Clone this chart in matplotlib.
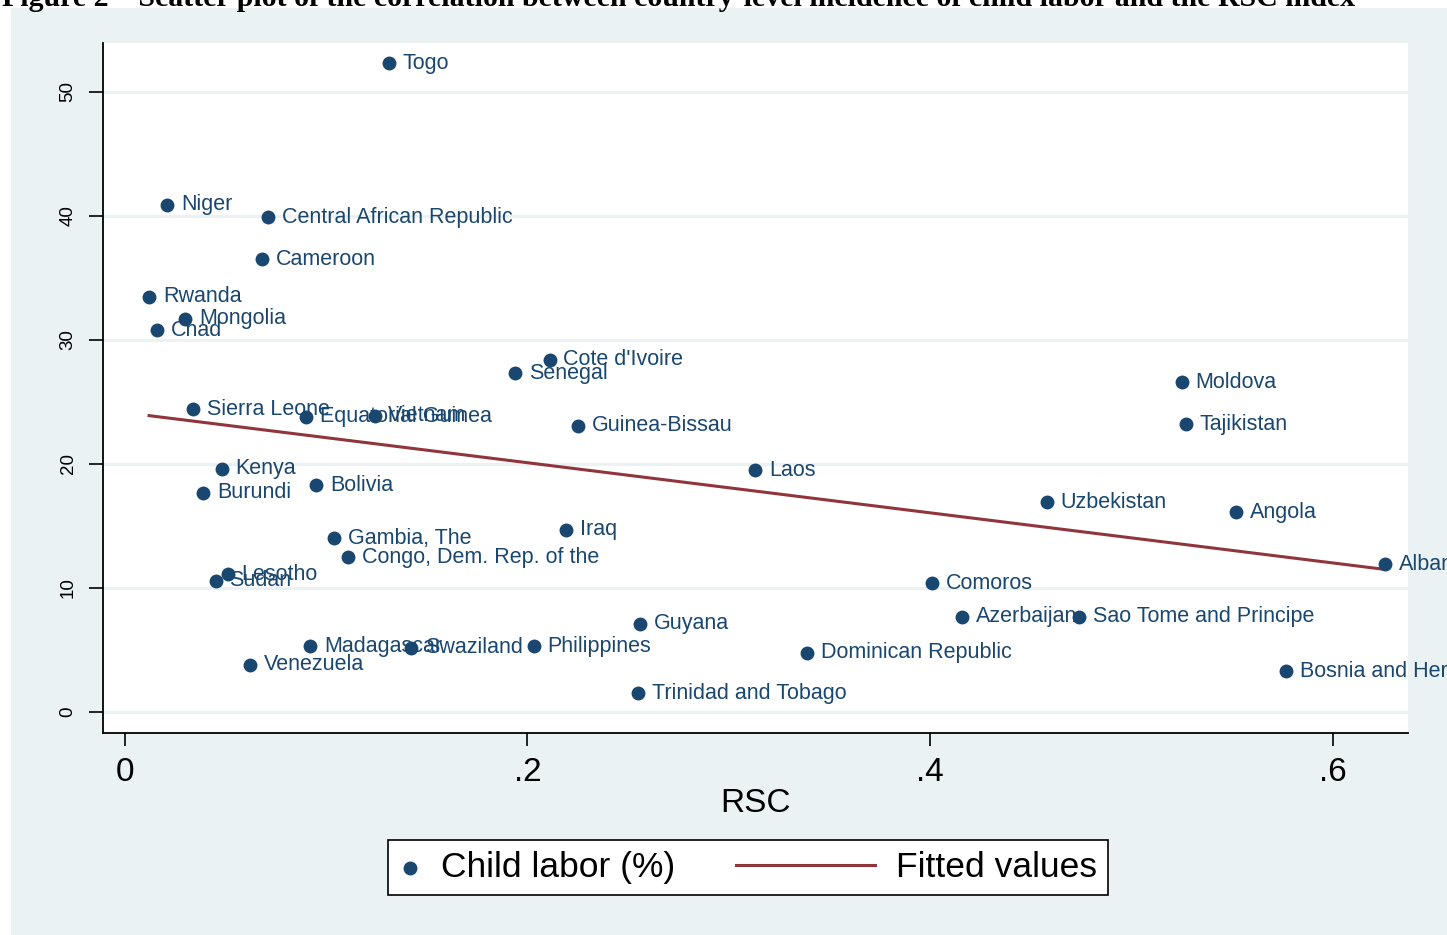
import matplotlib
matplotlib.use("Agg")
import matplotlib.pyplot as plt
from matplotlib.patches import Rectangle
from matplotlib.lines import Line2D
from matplotlib.legend_handler import HandlerLine2D

plt.rcParams['font.family'] = ['Liberation Sans', 'DejaVu Sans']

# data
countries = ["Togo", "Niger", "Central African Republic", "Cameroon", "Rwanda",
             "Mongolia", "Chad", "Cote d'Ivoire", "Senegal", "Moldova",
             "Tajikistan", "Sierra Leone", "Equatorial Guinea", "Vietnam",
             "Guinea-Bissau", "Kenya", "Laos", "Burundi", "Bolivia", "Uzbekistan",
             "Angola", "Iraq", "Gambia, The", "Congo, Dem. Rep. of the", "Albania",
             "Lesotho", "Sudan", "Comoros", "Azerbaijan", "Sao Tome and Principe",
             "Guyana", "Madagascar", "Swaziland", "Philippines",
             "Dominican Republic", "Venezuela", "Bosnia and Herzegovina",
             "Trinidad and Tobago"]
rsc = [0.131, 0.021, 0.071, 0.068, 0.012,
       0.030, 0.016, 0.211, 0.194, 0.525,
       0.527, 0.034, 0.090, 0.124,
       0.225, 0.048, 0.313, 0.039, 0.095, 0.458,
       0.552, 0.219, 0.104, 0.111, 0.626,
       0.051, 0.045, 0.401, 0.416, 0.474,
       0.256, 0.092, 0.142, 0.203,
       0.339, 0.062, 0.577,
       0.255]
child_labor = [52.3, 40.9, 39.9, 36.5, 33.5,
               31.7, 30.8, 28.4, 27.3, 26.6,
               23.2, 24.4, 23.8, 23.9,
               23.1, 19.6, 19.5, 17.7, 18.3, 16.9,
               16.1, 14.7, 14.0, 12.5, 11.9,
               11.1, 10.6, 10.4, 7.7, 7.7,
               7.1, 5.3, 5.2, 5.3,
               4.8, 3.8, 3.3,
               1.5]
fit_x = [0.012, 0.626]
fit_y = [23.9, 11.5]

xticks = [0, 0.2, 0.4, 0.6]
xtick_labels = ["0", ".2", ".4", ".6"]
yticks = [0, 10, 20, 30, 40, 50]

navy = "#1a476f"
maroon = "#90353b"
bg = "#eaf2f3"


class LongLineHandler(HandlerLine2D):
    # legend line that reaches left past its handle box
    def __init__(self, extra, **kw):
        super().__init__(**kw)
        self.extra = extra

    def create_artists(self, legend, orig_handle, xdescent, ydescent,
                       width, height, fontsize, trans):
        y = height / 2 - ydescent
        line = Line2D([-xdescent - self.extra, width - xdescent], [y, y])
        self.update_prop(line, orig_handle, legend)
        line.set_transform(trans)
        return [line]


fig = plt.figure(figsize=(14.47, 9.35), dpi=100, facecolor="white")
fig.patches.append(Rectangle((11 / 1447, 0), 1 - 11 / 1447, (935 - 8) / 935,
                             transform=fig.transFigure, facecolor=bg,
                             edgecolor="none", zorder=-10))

fig.text(0.0015, 1 - 5.5 / 935,
         "Figure 2 \u2013 Scatter plot of the correlation between country-level "
         "incidence of child labor and the RSC index",
         family="Liberation Serif", weight="bold", fontsize=21.5, va="baseline",
         ha="left")

ax = fig.add_axes([103 / 1447, 1 - 733 / 935, (1408 - 103) / 1447, (733 - 42.7) / 935])
ax.set_facecolor("white")

ax.plot(fit_x, fit_y, color=maroon, lw=2.2, zorder=2, label="Fitted values")
pts = ax.scatter(rsc, child_labor, s=100, color=navy, zorder=3,
                 linewidths=0, label="Child labor (%)")

for name, x, y in zip(countries, rsc, child_labor):
    ax.annotate(name, (x, y), xytext=(10, 0), textcoords="offset points",
                va="center", ha="left", fontsize=15.5, color=navy, zorder=4)

ax.set_xlim(-0.0109, 0.6375)
ax.set_ylim(-1.69, 53.97)
ax.set_xticks(xticks)
ax.set_xticklabels(xtick_labels)
ax.set_yticks(yticks)
ax.set_yticklabels([str(v) for v in yticks], rotation=90, va="center")

ax.grid(axis="y", color=bg, lw=2.2)
ax.set_axisbelow(True)
for side in ["top", "right"]:
    ax.spines[side].set_visible(False)
for side in ["left", "bottom"]:
    ax.spines[side].set_linewidth(1.3)
ax.tick_params(axis="x", direction="out", length=9, width=1.2, pad=8,
               labelsize=24)
ax.tick_params(axis="y", direction="out", length=10, width=1.2, pad=9,
               labelsize=13.5)
ax.set_xlabel("RSC", fontsize=24, labelpad=0)

leg_line = Line2D([], [], color=maroon, lw=2.2)
leg = ax.legend([pts, leg_line], ["Child labor (%)", "Fitted values"],
                handler_map={leg_line: LongLineHandler(84.6)},
                loc="center left", bbox_to_anchor=(388 / 1447, 67.5 / 935),
                bbox_transform=fig.transFigure, ncol=2, fontsize=25.5,
                frameon=True, fancybox=False, edgecolor="black",
                framealpha=1, scatterpoints=1, markerscale=1.0,
                handlelength=0.6, handletextpad=0.58, columnspacing=5.04,
                borderpad=0.32, borderaxespad=0)
leg.get_frame().set_linewidth(1.2)

fig.savefig("out.png", dpi=100, facecolor=fig.get_facecolor())
